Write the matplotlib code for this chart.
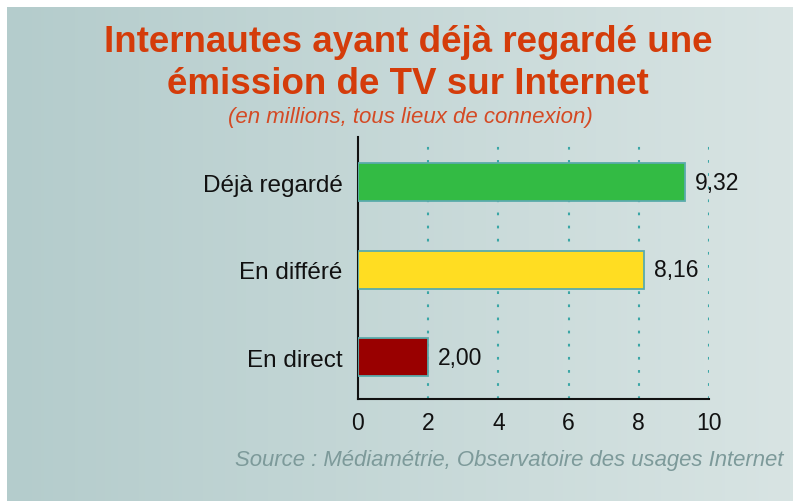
import matplotlib
matplotlib.use("Agg")
import matplotlib.pyplot as plt
import numpy as np
from matplotlib.colors import LinearSegmentedColormap

categories = ["Déjà regardé", "En différé", "En direct"]
values = [9.32, 8.16, 2.00]
value_labels = ["9,32", "8,16", "2,00"]
bar_colors = ["#33bb44", "#ffdd22", "#990000"]
xticks = [0, 2, 4, 6, 8, 10]

W, H = 793, 502
fig = plt.figure(figsize=(W / 100, H / 100), dpi=100)
fig.patch.set_facecolor("white")

# gradient background
bg = fig.add_axes([7 / W, 0, (W - 7) / W, (H - 8) / H])
bg.set_axis_off()
cmap = LinearSegmentedColormap.from_list("bg", ["#b4cccc", "#d8e4e3"])
bg.imshow(np.linspace(0, 1, 256)[None, :], aspect="auto", cmap=cmap,
          extent=[0, 1, 0, 1])
bg.set_xlim(0, 1)
bg.set_ylim(0, 1)

fs = "Liberation Sans"
title_font = ["Liberation Sans Narrow", "Liberation Sans", "DejaVu Sans"]

fig.text(408 / W, 1 - 42 / H, "Internautes ayant déjà regardé une",
         ha="center", va="center", fontsize=26.5, fontweight="bold",
         color="#d43c0a", family=title_font)
fig.text(408 / W, 1 - 85 / H, "émission de TV sur Internet",
         ha="center", va="center", fontsize=26.5, fontweight="bold",
         color="#d43c0a", family=title_font)
fig.text(410 / W, 1 - 118 / H, "(en millions, tous lieux de connexion)",
         ha="center", va="center", fontsize=16, style="italic",
         color="#d44a24", family=fs)
fig.text(783 / W, 1 - 461 / H,
         "Source : Médiamétrie, Observatoire des usages Internet",
         ha="right", va="center", fontsize=15.9, style="italic",
         color="#7d9a9a", family=fs)

ax = fig.add_axes([358 / W, 1 - 400 / H, (709 - 358) / W, (400 - 138) / H])
ax.patch.set_alpha(0)
ypos = [2, 1, 0]
ax.barh(ypos, values, height=0.434, color=bar_colors, edgecolor="#5aabab",
        linewidth=1.3, zorder=3)
for y, v, lab in zip(ypos, values, value_labels):
    ax.text(v + 0.28, y, lab, ha="left", va="center", fontsize=16.5,
            family=fs, color="#111111", zorder=4)

for x in xticks[1:]:
    ax.axvline(x, color="#3aa6a6", linewidth=1.5, linestyle=(0, (1.3, 5)),
               zorder=1)

ax.set_xlim(0, 10)
ax.set_ylim(-0.474, 2.514)
ax.set_xticks(xticks)
ax.set_xticklabels([str(t) for t in xticks], family=fs, fontsize=16.5)
ax.set_yticks(ypos)
ax.set_yticklabels(categories, family=fs, fontsize=17.5)
ax.tick_params(axis="both", length=0, colors="#111111")
ax.tick_params(axis="y", pad=11)
ax.tick_params(axis="x", pad=9)
for s in ["top", "right"]:
    ax.spines[s].set_visible(False)
for s in ["left", "bottom"]:
    ax.spines[s].set_linewidth(1.5)
    ax.spines[s].set_color("#111111")

fig.savefig("out.png", dpi=100)
